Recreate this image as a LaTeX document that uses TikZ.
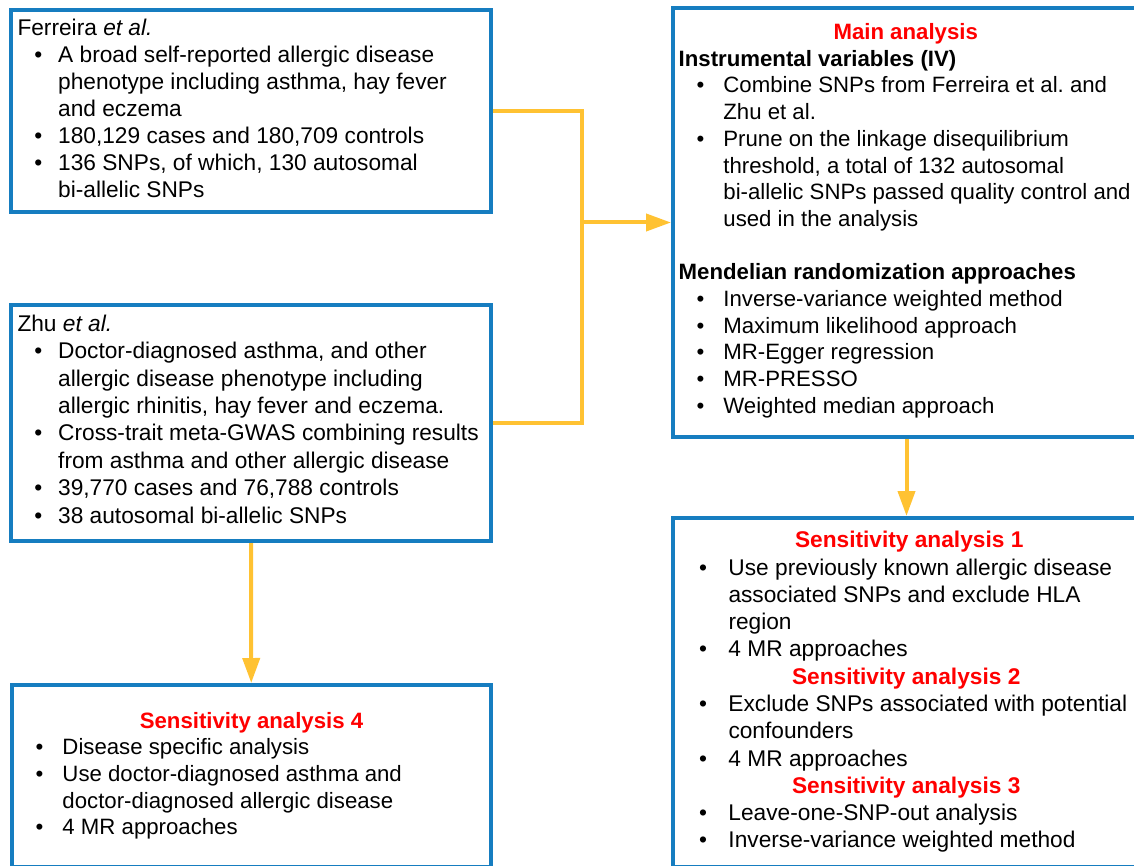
\documentclass[tikz,border=0pt]{standalone}
\usepackage{fontspec}
\setmainfont{Liberation Sans}
\usetikzlibrary{arrows.meta}
\frenchspacing
\definecolor{boxblue}{RGB}{22,125,192}
\definecolor{linkgold}{RGB}{255,194,50}
\definecolor{titlered}{RGB}{255,0,0}
\newcommand\bul[1]{\makebox[\bw][l]{\hspace*{\bo}\textbullet}#1}
\newcommand\cnt[1]{\hspace*{\bw}#1}
\newcommand\ctr[2]{\hspace*{#1}\makebox[0pt][c]{#2}}
\newcommand\rtitle[1]{\textcolor{titlered}{\textbf{#1}}}
\tikzset{
  panel/.style={draw=boxblue, line width=4pt, inner sep=0pt, miter limit=10},
  txt/.style={anchor=north west, inner sep=0pt, align=left, text=black},
  link/.style={draw=linkgold, line width=4pt},
  linkarrow/.style={link, -{Triangle[length=25pt,width=17pt]}},
}
\begin{document}
\begin{tikzpicture}[x=1pt,y=-1pt]
\useasboundingbox (0,0) rectangle (1134,866);
\clip (0,0) rectangle (1134,866);
% boxes
\node[panel, minimum width=479.4pt, minimum height=202pt] (ferreira) at (251,111.5) {};
\node[panel, minimum width=480pt, minimum height=236pt] (zhu) at (251,423) {};
\node[panel, minimum width=479.5pt, minimum height=182pt] (sa4) at (251.25,776) {};
\node[panel, minimum width=467pt, minimum height=429pt] (main) at (906.5,222.5) {};
\node[panel, minimum width=467pt, minimum height=349pt] (sens) at (906.5,692.5) {};
% texts
\node[txt, font={\fontsize{22.7}{27.1}\selectfont\frenchspacing\def\bw{40.7pt}\def\bo{16.8pt}}] (ftext) at (17.3,15) {%
\rule{0pt}{20pt}Ferreira \textit{et al.}\\
\bul{A broad self-reported allergic disease}\\
\cnt{phenotype including asthma, hay fever}\\
\cnt{and eczema}\\
\bul{180,129 cases and 180,709 controls}\\
\bul{136 SNPs, of which, 130 autosomal}\\
\cnt{bi-allelic SNPs}};
\node[txt, font={\fontsize{22.7}{27.4}\selectfont\frenchspacing\def\bw{40.7pt}\def\bo{16.8pt}}] (ztext) at (17.3,311) {%
\rule{0pt}{20pt}Zhu \textit{et al.}\\
\bul{Doctor-diagnosed asthma, and other}\\
\cnt{allergic disease phenotype including}\\
\cnt{allergic rhinitis, hay fever and eczema.}\\
\bul{Cross-trait meta-GWAS combining results}\\
\cnt{from asthma and other allergic disease}\\
\bul{39,770 cases and 76,788 controls}\\
\bul{38 autosomal bi-allelic SNPs}};
\node[txt, font={\fontsize{22.2}{26.7}\selectfont\frenchspacing\def\bw{44.7pt}\def\bo{17.8pt}}] (mtext) at (678.5,19.3) {%
\rule{0pt}{20pt}\ctr{227pt}{\rtitle{Main analysis}}\\
\textbf{Instrumental variables (IV)}\\
\bul{Combine SNPs from Ferreira et al. and}\\
\cnt{Zhu et al.}\\
\bul{Prune on the linkage disequilibrium}\\
\cnt{threshold, a total of 132 autosomal}\\
\cnt{bi-allelic SNPs passed quality control and}\\
\cnt{used in the analysis}\\[26.7pt]
\textbf{Mendelian randomization approaches}\\
\bul{Inverse-variance weighted method}\\
\bul{Maximum likelihood approach}\\
\bul{MR-Egger regression}\\
\bul{MR-PRESSO}\\
\bul{Weighted median approach}};
\node[txt, font={\fontsize{22.7}{27.27}\selectfont\frenchspacing\def\bw{29.5pt}\def\bo{0pt}}] (stext) at (698.8,527.7) {%
\rule{0pt}{20pt}\ctr{210.2pt}{\rtitle{Sensitivity analysis 1}}\\
\bul{Use previously known allergic disease}\\
\cnt{associated SNPs and exclude HLA}\\
\cnt{region}\\
\bul{4 MR approaches}\\
\ctr{207.2pt}{\rtitle{Sensitivity analysis 2}}\\
\bul{Exclude SNPs associated with potential}\\
\cnt{confounders}\\
\bul{4 MR approaches}\\
\ctr{207.2pt}{\rtitle{Sensitivity analysis 3}}\\
\bul{Leave-one-SNP-out analysis}\\
\bul{Inverse-variance weighted method}};
\node[txt, font={\fontsize{22.2}{26.6}\selectfont\frenchspacing\def\bw{26.9pt}\def\bo{0pt}}] (s4text) at (35.4,708) {%
\rule{0pt}{20pt}\ctr{215.9pt}{\rtitle{Sensitivity analysis 4}}\\
\bul{Disease specific analysis}\\
\bul{Use doctor-diagnosed asthma and}\\
\cnt{doctor-diagnosed allergic disease}\\
\bul{4 MR approaches}};
% connectors
\coordinate (junction) at (582,222.5);
\draw[link] (ferreira.east) -| (junction) |- (zhu.east);
\draw[linkarrow] (junction) -- (main.west);
\draw[linkarrow] (main.south) -- (sens.north);
\draw[linkarrow] (zhu.south) -- (sa4.north);
\end{tikzpicture}
\end{document}
